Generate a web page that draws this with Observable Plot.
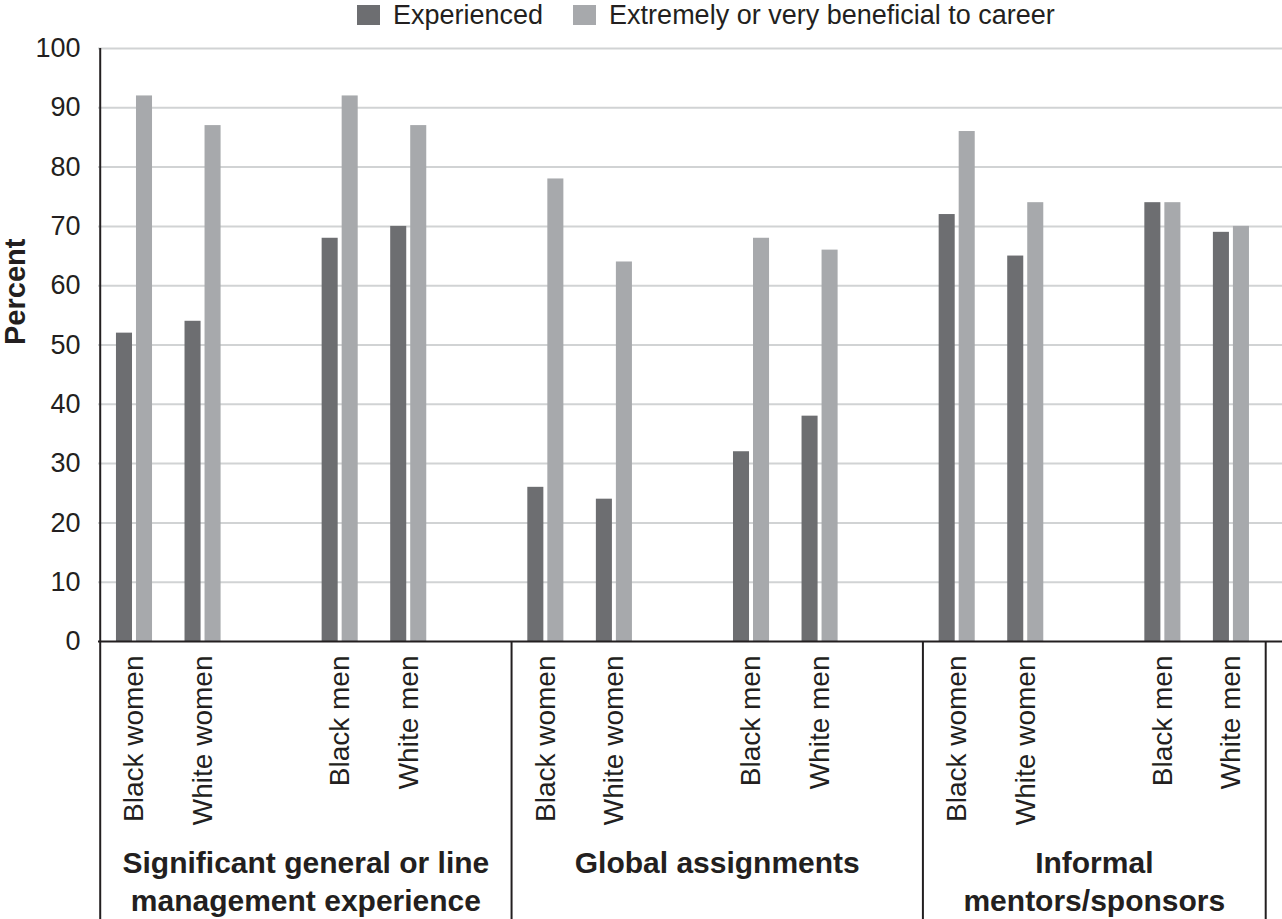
<!DOCTYPE html>
<html><head><meta charset="utf-8">
<script src="https://cdn.jsdelivr.net/npm/d3@7"></script>
<script src="https://cdn.jsdelivr.net/npm/@observablehq/plot@0.6"></script>
<style>
body{margin:0;background:#fff;font-family:"Liberation Sans",Arial,sans-serif;color:#231f20;}
#legend{height:30px;display:flex;align-items:center;padding-left:357px;font-size:27px;line-height:30px;}
.item{display:flex;align-items:center;margin-right:30px;white-space:nowrap}
.sw{width:23px;height:20px;display:inline-block;margin-right:13px}
svg{display:block}
</style></head><body>
<div id="legend"></div>
<div id="chart"></div>
<script>
const categories = ["Significant general or line\nmanagement experience", "Global assignments", "Informal\nmentors/sponsors"];
const groups = ["Black women", "White women", "Black men", "White men"];
const series = ["Experienced", "Extremely or very beneficial to career"];
const experienced = [[52, 54, 68, 70], [26, 24, 32, 38], [72, 65, 74, 69]];
const beneficial  = [[92, 87, 92, 87], [78, 64, 68, 66], [86, 74, 74, 70]];
const yTicks = [0, 10, 20, 30, 40, 50, 60, 70, 80, 90, 100];
const colors = ["#6d6e71", "#a7a9ac"];

// layout: each category spans 6 slots, groups sit in slots 0,1,3,4
const groupSlots = [0, 1, 3, 4];
const slotsPerCat = 6;
const barW = 0.234, barGap = 0.029;

const bars = [];
const labels = [];
categories.forEach((cat, c) => {
  groups.forEach((g, gi) => {
    const pos = c * slotsPerCat + groupSlots[gi];
    labels.push({cat, group: g, pos});
    [experienced, beneficial].forEach((arr, s) => {
      bars.push({cat, group: g, series: series[s], value: arr[c][gi], pos, s});
    });
  });
});
const lastPos = d3.max(labels, d => d.pos);
const bounds = categories.map((cat, c) => ({
  cat,
  start: c * slotsPerCat - 0.5,
  end: Math.min(c * slotsPerCat + slotsPerCat - 0.5, lastPos + 0.5)
}));
const seps = [...new Set(bounds.flatMap(b => [b.start, b.end]))];

// legend
const legend = document.getElementById("legend");
series.forEach((s, i) => {
  const it = document.createElement("div");
  it.className = "item";
  it.innerHTML = `<span class="sw" style="background:${colors[i]}"></span><span>${s}</span>`;
  legend.appendChild(it);
});

const H = 889, mTop = 18, mBottom = 278;
const frameH = H - mTop - mBottom;

const chart = Plot.plot({
  width: 1282,
  height: H,
  marginTop: mTop,
  marginBottom: mBottom,
  marginLeft: 98,
  marginRight: 0,
  style: {fontFamily: '"Liberation Sans", Arial, sans-serif', color: "#231f20", background: "#fff", overflow: "visible"},
  x: {type: "linear", domain: [-0.525, 16.745], axis: null},
  y: {domain: [0, 100], axis: null},
  marks: [
    Plot.ruleY(yTicks.filter(v => v > 0), {stroke: "#d1d3d4", strokeWidth: 2}),
    Plot.rectY(bars, {
      x1: d => d.pos + (d.s === 0 ? -(barW + barGap) : barGap),
      x2: d => d.pos + (d.s === 0 ? -barGap : barW + barGap),
      y: "value",
      fill: d => colors[d.s]
    }),
    Plot.ruleY([0], {stroke: "#231f20", strokeWidth: 2}),
    Plot.ruleX([seps[0]], {stroke: "#231f20", strokeWidth: 2, insetBottom: -mBottom}),
    Plot.ruleX(seps.slice(1), {stroke: "#231f20", strokeWidth: 2, insetTop: frameH, insetBottom: -mBottom}),
    Plot.axisY(yTicks, {tickSize: 0, tickPadding: 18, fontSize: 27, label: null, fill: "#231f20"}),
    Plot.text(labels, {x: "pos", y: 0, text: "group", rotate: -90, textAnchor: "end", lineAnchor: "middle", dy: 14, fontSize: 28, fill: "#231f20"}),
    Plot.text(bounds, {x: d => (d.start + d.end) / 2, y: 0, text: "cat", lineAnchor: "top", dy: 205, fontSize: 30, fontWeight: "bold", lineHeight: 1.25, fill: "#231f20"}),
    Plot.text(["Percent"], {frameAnchor: "left", rotate: -90, dx: -83, fontSize: 29, fontWeight: "bold", fill: "#231f20"})
  ]
});
document.getElementById("chart").appendChild(chart);
</script>
</body></html>
